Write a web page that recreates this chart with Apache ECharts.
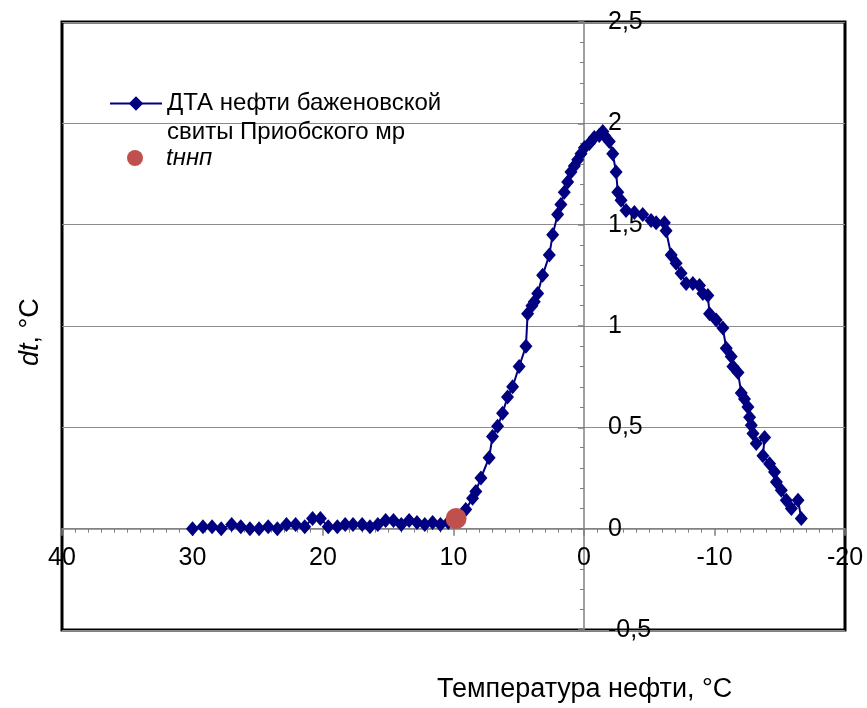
<!DOCTYPE html>
<html>
<head>
<meta charset="utf-8">
<script src="https://cdn.jsdelivr.net/npm/echarts@6/dist/echarts.min.js"></script>
<style>
  html, body { margin: 0; padding: 0; background: #fff; }
  #chart { width: 867px; height: 708px; }
</style>
</head>
<body>
<div id="chart"></div>
<script>
// Oil temperature, °C (heating curve goes from +30 down to about -17)
const temps = [
  30.0, 29.2, 28.5, 27.8, 27.0, 26.3, 25.6, 24.9, 24.2, 23.5,
  22.8, 22.1, 21.4, 20.8, 20.2, 19.6, 18.9, 18.3, 17.7, 17.0,
  16.4, 15.8, 15.2, 14.6, 14.0, 13.4, 12.8, 12.2, 11.6, 11.0,
  10.4, 9.8,
  9.06, 8.54, 8.29, 7.90, 7.27, 7.01, 6.62, 6.24, 5.86, 5.47,
  4.97, 4.45, 4.32, 3.99, 3.81, 3.55, 3.17, 2.66, 2.40, 2.02,
  1.77, 1.51, 1.25, 1.00, 0.74, 0.48, 0.23, -0.03, -0.41, -0.79,
  -1.17, -1.44,
  -1.56, -1.94, -2.20, -2.46, -2.59, -2.84, -3.22, -3.86, -4.50, -5.14,
  -5.53, -6.16, -6.29, -6.68, -7.06, -7.44, -7.83, -8.34, -8.85, -9.11,
  -9.49, -9.62, -10.13, -10.64, -10.90, -11.28, -11.41, -11.80, -12.05, -12.30,
  -12.56, -12.69, -12.82, -12.95, -13.20, -13.84, -13.71, -14.22, -14.60, -14.74,
  -15.12, -15.50, -15.89, -16.40, -16.65
];

// Differential temperature dt, °C
const dtValues = [
  0.00, 0.01, 0.01, 0.00, 0.02, 0.01, 0.00, 0.00, 0.01, 0.00,
  0.02, 0.02, 0.01, 0.05, 0.05, 0.01, 0.01, 0.02, 0.02, 0.02,
  0.01, 0.02, 0.04, 0.04, 0.02, 0.04, 0.03, 0.02, 0.03, 0.02,
  0.03, 0.04,
  0.094, 0.15, 0.184, 0.25, 0.35, 0.455, 0.505, 0.57, 0.65, 0.70,
  0.80, 0.90, 1.06, 1.10, 1.12, 1.16, 1.25, 1.35, 1.45, 1.55,
  1.60, 1.66, 1.71, 1.76, 1.79, 1.82, 1.85, 1.88, 1.90, 1.93,
  1.94, 1.96,
  1.94, 1.91, 1.85, 1.76, 1.66, 1.62, 1.57, 1.56, 1.55, 1.52,
  1.51, 1.51, 1.47, 1.35, 1.31, 1.26, 1.21, 1.21, 1.20, 1.16,
  1.15, 1.06, 1.03, 0.99, 0.89, 0.85, 0.80, 0.77, 0.67, 0.64,
  0.60, 0.55, 0.51, 0.47, 0.42, 0.45, 0.36, 0.32, 0.28, 0.23,
  0.19, 0.14, 0.10, 0.14, 0.05
];

// Onset temperature of the oil's phase transition (tннп)
const onsetTemp = [9.8];
const onsetDt = [0.05];

// Axis ranges and tick steps
const xTicks = { min: -20, max: 40, step: 10 };
const yTicks = { min: -0.5, max: 2.5, step: 0.5 };

const seriesName = 'ДТА нефти баженовской\nсвиты Приобского мр';
const onsetName = 'tннп';

const dtaData = temps.map((t, i) => [t, dtValues[i]]);
const onsetData = onsetTemp.map((t, i) => [t, onsetDt[i]]);

const FONT = '"Liberation Sans", Arial, sans-serif';
const W = 867, H = 708;
const GRID = { left: 62, right: 22, top: 22, bottom: 78 };
const plotW = W - GRID.left - GRID.right;
const plotH = H - GRID.top - GRID.bottom;

// Both axes cross at zero: shift them into the plot by the position of 0
// (x axis is reversed, so 40 sits on the left edge).
const yAxisShift = -plotW * (xTicks.max - 0) / (xTicks.max - xTicks.min);
const xAxisShift = -plotH * (0 - yTicks.min) / (yTicks.max - yTicks.min);

const chart = echarts.init(document.getElementById('chart'), null, { renderer: 'canvas' });

chart.setOption({
  backgroundColor: '#ffffff',
  animation: false,
  textStyle: { fontFamily: FONT },
  grid: {
    left: GRID.left, right: GRID.right, top: GRID.top, bottom: GRID.bottom,
    show: true, borderColor: '#000', borderWidth: 3,
    containLabel: false
  },
  legend: [
    {
      data: [seriesName],
      left: 104, top: 55,
      itemWidth: 52, itemHeight: 18,
      formatter: name => '\n' + name,
      textStyle: { fontSize: 24, color: '#000', fontFamily: FONT, lineHeight: 29 },
      selectedMode: false
    },
    {
      data: [onsetName],
      left: 122, top: 141,
      itemWidth: 52, itemHeight: 16,
      textStyle: { fontSize: 24, color: '#000', fontFamily: FONT, fontStyle: 'italic' },
      selectedMode: false
    }
  ],
  xAxis: {
    type: 'value',
    inverse: true,
    min: xTicks.min, max: xTicks.max, interval: xTicks.step,
    offset: xAxisShift,
    axisLine: { onZero: false, lineStyle: { color: '#808080', width: 1.5 } },
    axisTick: { show: true, length: 7, lineStyle: { color: '#808080', width: 1.5 } },
    minorTick: { show: true, splitNumber: 10, length: 4, lineStyle: { color: '#808080', width: 1 } },
    axisLabel: { fontSize: 25, color: '#000', margin: 17, fontFamily: FONT, showMinLabel: true, showMaxLabel: true },
    splitLine: { show: false }
  },
  yAxis: {
    type: 'value',
    min: yTicks.min, max: yTicks.max, interval: yTicks.step,
    offset: yAxisShift,
    axisLine: { onZero: false, lineStyle: { color: '#808080', width: 1.5 } },
    axisTick: { show: true, length: 6, lineStyle: { color: '#808080', width: 1.5 } },
    minorTick: { show: true, splitNumber: 5, length: 4, lineStyle: { color: '#808080', width: 1 } },
    axisLabel: {
      inside: true, margin: 24, fontSize: 25, color: '#000', fontFamily: FONT,
      align: 'left',
      showMinLabel: true, showMaxLabel: true,
      formatter: v => String(v).replace('.', ',')
    },
    splitLine: { show: true, lineStyle: { color: '#8c8c8c', width: 1.2 } }
  },
  series: [
    {
      name: seriesName,
      type: 'line',
      data: dtaData,
      symbol: 'diamond',
      symbolSize: [13, 15],
      showAllSymbol: true,
      lineStyle: { color: '#000080', width: 2 },
      itemStyle: { color: '#000080' },
      z: 3
    },
    {
      name: onsetName,
      type: 'scatter',
      data: onsetData,
      symbol: 'circle',
      symbolSize: 21,
      itemStyle: { color: '#C0504D', opacity: 1 },
      z: 4
    }
  ],
  graphic: [
    {
      type: 'text',
      left: 437, top: 676,
      style: { text: 'Температура нефти, °C', fontSize: 27, fill: '#000', fontFamily: FONT }
    },
    {
      type: 'text',
      x: 17, y: 366,
      rotation: Math.PI / 2,
      style: {
        text: '{i|dt}, °C',
        fontSize: 27, fill: '#000', fontFamily: FONT,
        rich: { i: { fontStyle: 'italic', fontSize: 27, fontFamily: FONT, fill: '#000' } }
      }
    }
  ]
});
</script>
</body>
</html>
